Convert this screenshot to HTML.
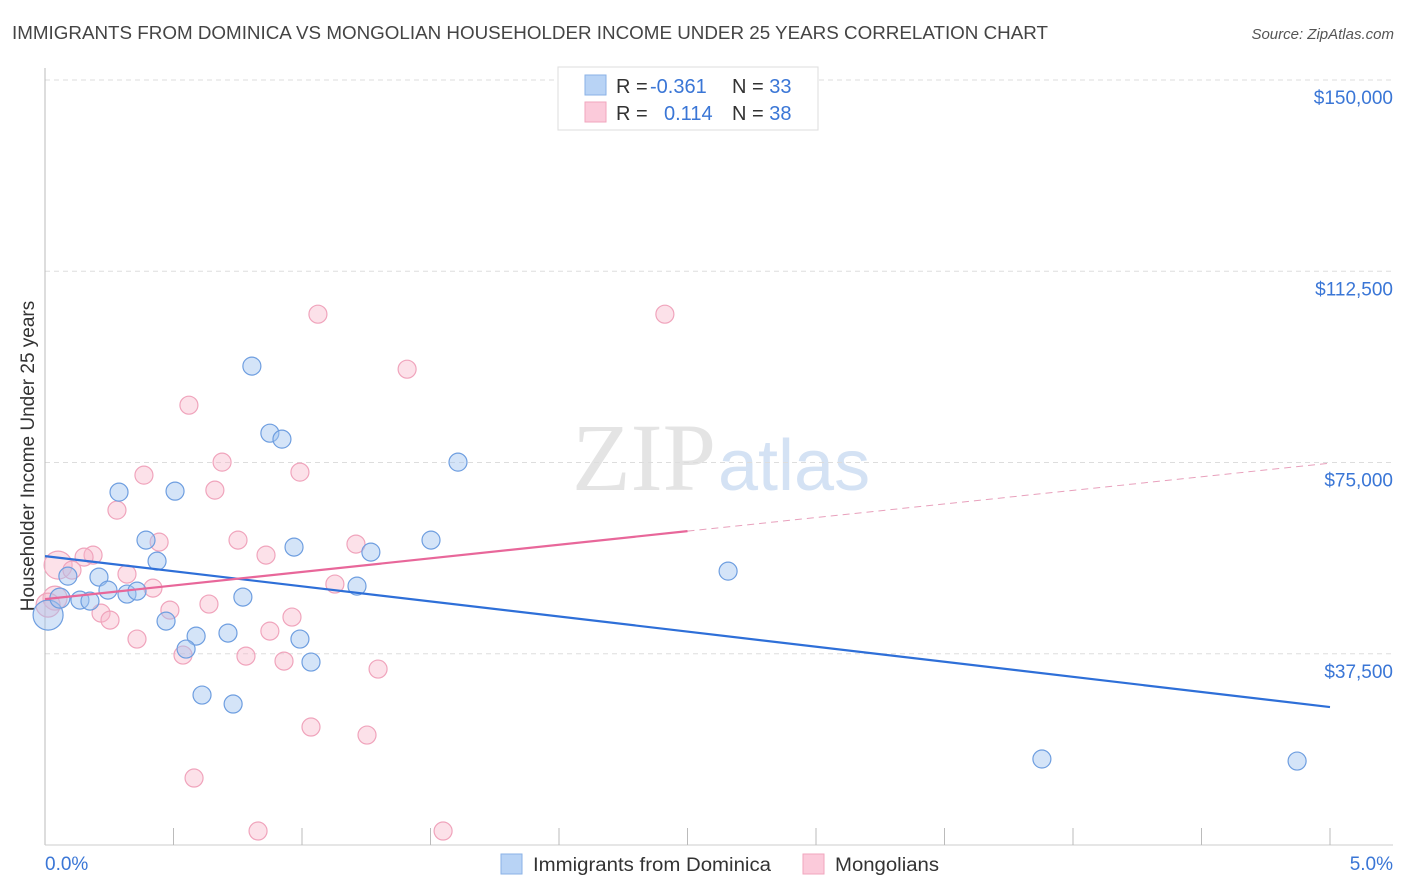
<!DOCTYPE html>
<html><head><meta charset="utf-8"><style>
body{margin:0;background:#fff;font-family:"Liberation Sans",sans-serif;}
svg{display:block}
</style></head><body>
<svg id="chart" width="1406" height="892">
<text x="12" y="39" font-size="18" fill="#444" textLength="1036" lengthAdjust="spacingAndGlyphs">IMMIGRANTS FROM DOMINICA VS MONGOLIAN HOUSEHOLDER INCOME UNDER 25 YEARS CORRELATION CHART</text>
<text x="1394" y="39" font-size="15" fill="#555" font-style="italic" text-anchor="end">Source: ZipAtlas.com</text>
<text x="716" y="490" font-size="96" fill="#e4e4e4" text-anchor="end" font-family="Liberation Serif">ZIP</text>
<text x="718" y="490" font-size="72" fill="#d4e2f4">atlas</text>
<text transform="translate(34,456) rotate(-90)" font-size="19" fill="#333" text-anchor="middle">Householder Income Under 25 years</text>
<g id="grid"></g><g id="marks"></g>
<g>
<rect x="558" y="67" width="260" height="63" fill="#fff" stroke="#ddd"/>
<rect x="585" y="75" width="21" height="20" fill="#b8d3f5" stroke="#8ab2e6"/>
<rect x="585" y="102" width="21" height="20" fill="#fbcada" stroke="#f0a6be"/>
<text x="616" y="93" font-size="20" fill="#333">R = <tspan fill="#3a76d6" x="650">-0.361</tspan></text>
<text x="732" y="93" font-size="20" fill="#333">N = <tspan fill="#3a76d6">33</tspan></text>
<text x="616" y="120" font-size="20" fill="#333">R = <tspan fill="#3a76d6" x="664">0.114</tspan></text>
<text x="732" y="120" font-size="20" fill="#333">N = <tspan fill="#3a76d6">38</tspan></text>
</g>
<g>
<rect x="501" y="854" width="21" height="20" fill="#b8d3f5" stroke="#8ab2e6"/>
<text x="533" y="871" font-size="19" fill="#333" textLength="238" lengthAdjust="spacingAndGlyphs">Immigrants from Dominica</text>
<rect x="803" y="854" width="21" height="20" fill="#fbcada" stroke="#f0a6be"/>
<text x="835" y="871" font-size="19" fill="#333" textLength="104" lengthAdjust="spacingAndGlyphs">Mongolians</text>
</g>
</svg>
<script>
const yTicks=[37500,75000,112500,150000];
const yTickLabels=["$37,500","$75,000","$112,500","$150,000"];
const xTickLabels=["0.0%","5.0%"];
const blueX=[0.805,0.875,0.922,0.288,0.506,1.607,0.393,0.436,0.969,1.268,1.502,0.089,0.210,0.136,0.175,0.245,0.319,0.358,0.471,0.770,1.214,0.588,0.712,0.992,0.549,1.035,0.611,0.732,2.658,3.879,4.872,0.012,0.058];
const blueY=[93900,80750,79580,69190,69380,75070,59780,55660,58410,57430,59780,52720,52530,48020,47820,49980,49200,49780,43900,48610,50760,40960,41550,40380,38420,35870,29400,27640,53700,16860,16460,45080,48410];
const blueR=[9,9,9,9,9,9,9,9,9,9,9,9,9,9,9,9,9,9,9,9,9,9,9,9,9,9,9,9,9,9,9,15,10];
const pinkX=[1.062,2.412,1.409,0.560,0.689,0.385,0.992,0.661,0.280,0.444,0.751,1.210,0.860,0.187,0.152,0.051,0.105,0.319,0.420,1.128,0.218,0.486,0.638,0.253,0.358,0.875,0.961,0.537,0.782,0.930,1.296,1.035,1.253,0.580,0.829,1.549,0.039,0.012];
const pinkY=[104080,104080,93300,86240,75070,72520,73110,69580,65660,59390,59780,59000,56840,56840,56450,54880,53900,53120,50370,51160,45470,46060,47240,44100,40380,41940,44690,37240,37040,36060,34500,23130,21560,13130,2740,2740,48410,47040];
const pinkR=[9,9,9,9,9,9,9,9,9,9,9,9,9,9,9,14,9,9,9,9,9,9,9,9,9,9,9,9,9,9,9,9,9,9,9,9,12,12];
const blueTrend=[56640,27050];
const pinkTrend=[48210,74870];
const pinkSolidEnd=2.5;
const X=v=>45+v/5*1285, Y=v=>845-v/150000*765;
const NS="http://www.w3.org/2000/svg";
function mk(p,t,a){const e=document.createElementNS(NS,t);for(const k in a)e.setAttribute(k,a[k]);p.appendChild(e);return e;}
const grid=document.getElementById('grid'),marks=document.getElementById('marks');
yTicks.forEach((t,i)=>{
 const l=mk(grid,'line',{x1:45,x2:1393,y1:Y(t),y2:Y(t),stroke:'#ddd','stroke-dasharray':'5,4'});
 
 
 const tx=mk(grid,'text',{x:1393,y:Y(t)+24,'font-size':19,fill:'#3a76d6','text-anchor':'end'});
 tx.textContent=yTickLabels[i];
 
 
});
const ax=mk(grid,'line',{x1:45,x2:45,y1:68,y2:845,stroke:'#bbb'});


const bx=mk(grid,'line',{x1:45,x2:1393,y1:845,y2:845,stroke:'#ccc'});


for(let i=1;i<=10;i++){const t=mk(grid,'line',{x1:X(i*0.5),x2:X(i*0.5),y1:828,y2:845,stroke:'#bbb'});
 
 }
[[0,45,'start'],[5,1393,'end']].forEach((d,i)=>{const t=mk(grid,'text',{x:d[1],y:870,'font-size':19,fill:'#3a76d6','text-anchor':d[2]});t.textContent=xTickLabels[i];
 
 });
pinkX.forEach((x,i)=>{const c=mk(marks,'circle',{cx:X(x),cy:Y(pinkY[i]),r:pinkR[i],fill:'rgba(248,180,200,0.4)',stroke:'#f0a4bc','stroke-width':1.2});
 
 });
blueX.forEach((x,i)=>{const c=mk(marks,'circle',{cx:X(x),cy:Y(blueY[i]),r:blueR[i],fill:'rgba(160,196,240,0.45)',stroke:'#6e9ee0','stroke-width':1.2});
 
 });
const bl=mk(marks,'line',{x1:X(0),y1:Y(blueTrend[0]),x2:X(5),y2:Y(blueTrend[1]),stroke:'#2e6fd8','stroke-width':2.2});


const pm=pinkTrend[0]+(pinkTrend[1]-pinkTrend[0])*pinkSolidEnd/5;
const pl=mk(marks,'line',{x1:X(0),y1:Y(pinkTrend[0]),x2:X(pinkSolidEnd),y2:Y(pm),stroke:'#e8679a','stroke-width':2.2});


const pd=mk(marks,'line',{x1:X(pinkSolidEnd),y1:Y(pm),x2:X(5),y2:Y(pinkTrend[1]),stroke:'#e8a0bc','stroke-width':1,'stroke-dasharray':'7,5'});


</script>
</body></html>
